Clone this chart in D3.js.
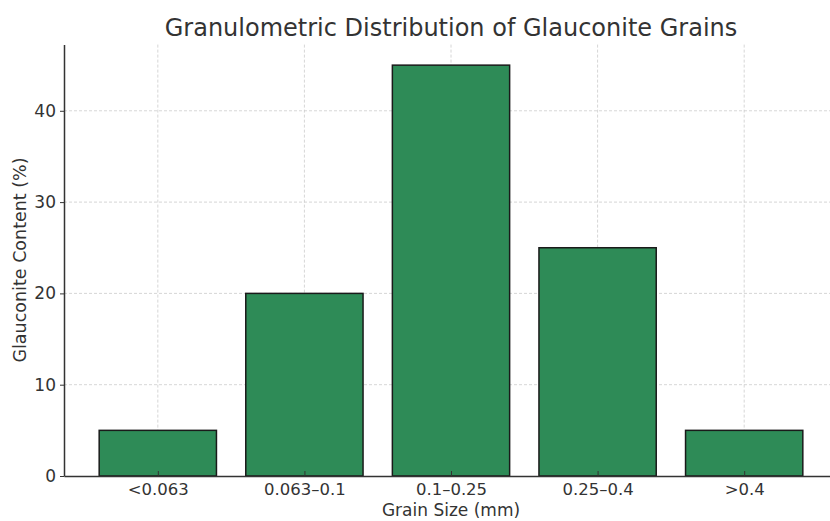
<!DOCTYPE html>
<html><head><meta charset="utf-8">
<script src="https://cdn.jsdelivr.net/npm/d3@7"></script>
<style>body{margin:0;background:#fff}svg{display:block;font-family:"DejaVu Sans",sans-serif}</style>
</head><body><svg id="c" width="830" height="521"></svg>
<script>
const categories = ["<0.063", "0.063–0.1", "0.1–0.25", "0.25–0.4", ">0.4"];
const values = [5, 20, 45, 25, 5];
const yTicks = [0, 10, 20, 30, 40];

const svg = d3.select("#c");
const L = 64, R = 838, T = 44.6, B = 476;
const x = d3.scaleLinear().domain([-0.64, categories.length - 1 + 0.64]).range([L, R]);
const y = d3.scaleLinear().domain([0, 47.25]).range([B, T]);
const bw = x(0.8) - x(0);
const txt = "#333";

// grid
svg.append("g").selectAll("line").data(yTicks.slice(1)).join("line")
  .attr("x1", L).attr("x2", R).attr("y1", d => y(d)).attr("y2", d => y(d))
  .attr("stroke", "#ccc").attr("stroke-width", 0.8).attr("stroke-dasharray", "3,2");
svg.append("g").selectAll("line").data(categories).join("line")
  .attr("x1", (d, i) => x(i)).attr("x2", (d, i) => x(i)).attr("y1", T).attr("y2", B)
  .attr("stroke", "#ccc").attr("stroke-width", 0.8).attr("stroke-dasharray", "3,2");

// bars
svg.append("g").selectAll("rect").data(values).join("rect")
  .attr("x", (d, i) => x(i) - bw / 2).attr("width", bw)
  .attr("y", d => y(d)).attr("height", d => B - y(d))
  .attr("fill", "#2e8b57").attr("stroke", "#1a1a1a").attr("stroke-width", 1.5);

// x axis
const xa = svg.append("g").attr("transform", `translate(0,${B})`)
  .call(d3.axisBottom(x).tickValues(d3.range(categories.length)).tickFormat(i => categories[i]).tickSizeInner(-5).tickSizeOuter(0).tickPadding(7));
xa.select(".domain").attr("stroke", "#333").attr("stroke-width", 1.5);
xa.selectAll(".tick line").attr("stroke", "#333");
xa.selectAll("text").attr("font-size", 16.5).attr("fill", txt).attr("font-family", "DejaVu Sans");

// y axis
const ya = svg.append("g").attr("transform", `translate(${L},0)`)
  .call(d3.axisLeft(y).tickValues(yTicks).tickSizeInner(4).tickSizeOuter(0).tickPadding(4));
ya.select(".domain").attr("stroke", "#333").attr("stroke-width", 1.5);
ya.selectAll(".tick line").attr("stroke", "#333");
ya.selectAll("text").attr("font-size", 17).attr("fill", txt).attr("font-family", "DejaVu Sans");

// title and labels
svg.append("text").attr("x", (L + R) / 2).attr("y", 36).attr("text-anchor", "middle")
  .attr("font-size", 24).attr("fill", txt).text("Granulometric Distribution of Glauconite Grains");
svg.append("text").attr("x", (L + R) / 2).attr("y", 516).attr("text-anchor", "middle")
  .attr("font-size", 17).attr("fill", txt).text("Grain Size (mm)");
svg.append("text").attr("transform", `translate(26,${260}) rotate(-90)`).attr("text-anchor", "middle")
  .attr("font-size", 17.5).attr("fill", txt).text("Glauconite Content (%)");
</script></body></html>
